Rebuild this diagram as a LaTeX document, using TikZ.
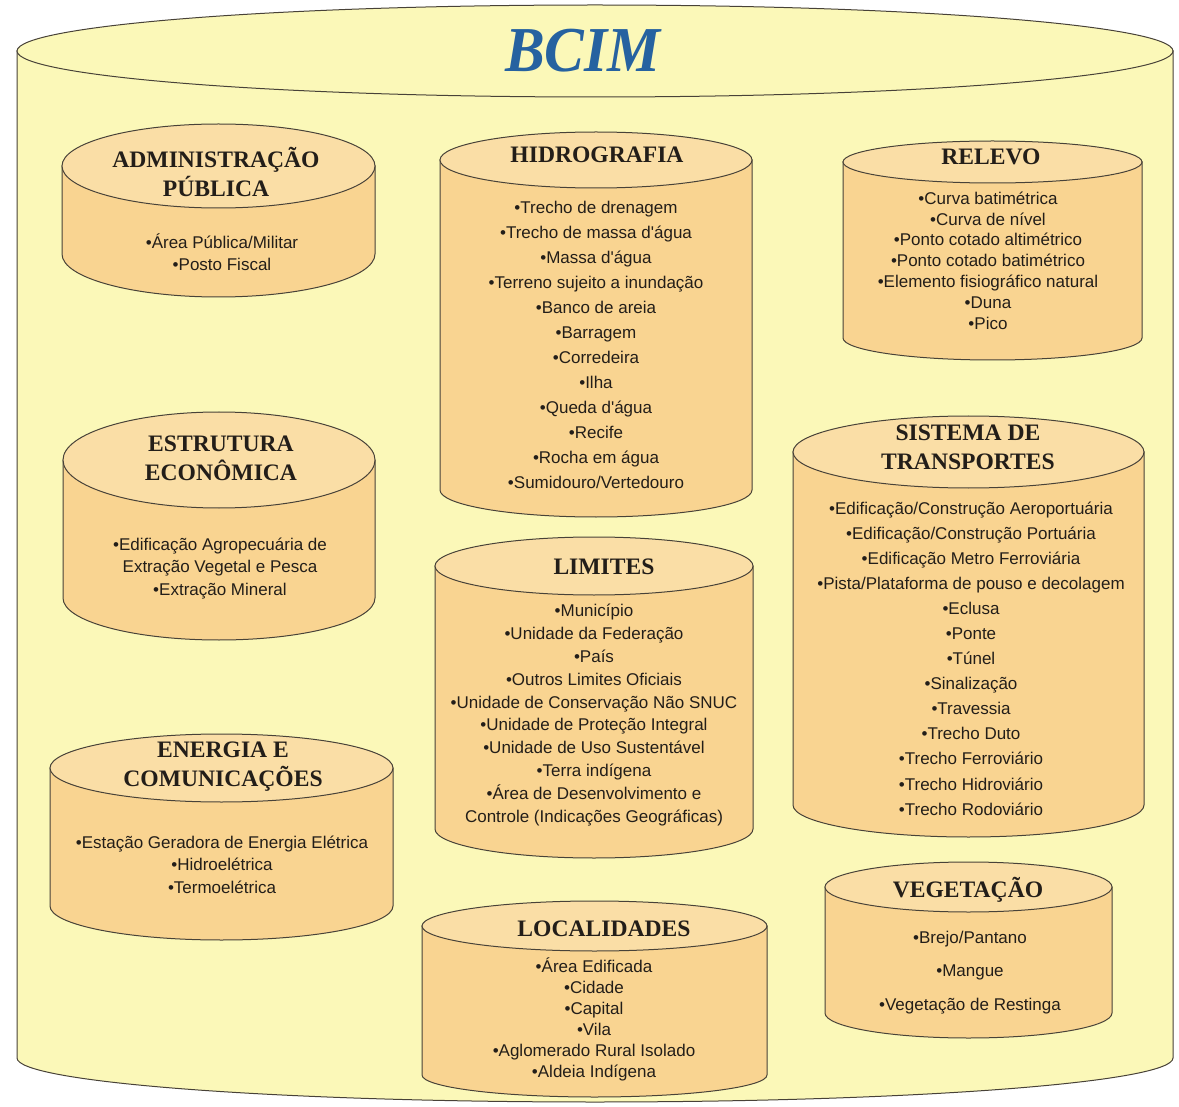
\documentclass[tikz,border=0pt]{standalone}
\usepackage{fontspec}
\setmainfont{Liberation Serif}
\setsansfont{Liberation Sans}
\definecolor{outerfill}{RGB}{251,248,184}
\definecolor{cylbody}{RGB}{249,212,145}
\definecolor{cyltopc}{RGB}{250,222,166}
\definecolor{edgec}{RGB}{72,66,56}
\definecolor{bcimblue}{RGB}{38,98,160}
\definecolor{txtc}{RGB}{35,30,25}
\newcommand\apos{\textquotesingle}
% #1 cx, #2 half width, #3 top centre y, #4 top ry, #5 bottom centre y, #6 bottom ry, #7 style prefix
\newcommand\mycyl[7]{%
  \filldraw[#7 side] (#1-#2,-#3) -- (#1-#2,-#5)
     arc[start angle=180,end angle=360,x radius=#2pt,y radius=#6pt]
     -- (#1+#2,-#3) -- cycle;
  \filldraw[#7 top] (#1,-#3) ellipse[x radius=#2pt,y radius=#4pt];
}
\tikzset{
  outer side/.style={fill=outerfill,draw=edgec,line width=1pt},
  outer top/.style={fill=outerfill,draw=edgec,line width=1pt},
  inner side/.style={fill=cylbody,draw=edgec,line width=1pt},
  inner top/.style={fill=cyltopc,draw=edgec,line width=1pt},
  ttl/.style={font=\fontsize{23.6}{29}\selectfont\bfseries,align=center,inner sep=0pt,text=txtc},
  itm/.style={font=\fontsize{17}{#1}\selectfont\sffamily,align=center,inner sep=0pt,text=txtc},
}
\begin{document}
\begin{tikzpicture}[x=1pt,y=1pt]
\useasboundingbox (0,0) rectangle (1179,-1107);
\fill[white] (0,0) rectangle (1179,-1107);
% outer cylinder
\mycyl{595}{578}{51}{46}{1058}{44}{outer}
\node[font=\fontsize{64}{64}\selectfont\bfseries\itshape,text=bcimblue,xscale=0.93] (bcim) at (583,-51) {BCIM};

% Administracao publica
\mycyl{218.5}{156.5}{166}{42}{254}{43}{inner}
\node[ttl] (admT) at (216,-172) {ADMINISTRAÇÃO\\PÚBLICA};
\node[itm=22] (admI) at (222,-252) {•Área Pública/Militar\\•Posto Fiscal};

% Hidrografia
\mycyl{596}{156}{160}{28}{490}{27}{inner}
\node[ttl] (hidT) at (597,-155) {HIDROGRAFIA};
\node[itm=25] (hidI) at (596,-344.5) {•Trecho de drenagem\\•Trecho de massa d\apos água\\•Massa d\apos água\\•Terreno sujeito a inundação\\•Banco de areia\\•Barragem\\•Corredeira\\•Ilha\\•Queda d\apos água\\•Recife\\•Rocha em água\\•Sumidouro/Vertedouro};

% Relevo
\mycyl{992.5}{149.5}{162}{21}{338}{22}{inner}
\node[ttl] (relT) at (991,-157) {RELEVO};
\node[itm=20.8] (relI) at (988,-260.5) {•Curva batimétrica\\•Curva de nível\\•Ponto cotado altimétrico\\•Ponto cotado batimétrico\\•Elemento fisiográfico natural\\•Duna\\•Pico};

% Estrutura economica
\mycyl{219}{156}{460}{48}{598}{42}{inner}
\node[ttl] (estT) at (221,-458.5) {ESTRUTURA\\ECONÔMICA};
\node[itm=22.5] (estI) at (220,-568.5) {•Edificação Agropecuária de\\Extração Vegetal e Pesca\\•Extração Mineral};

% Energia e comunicacoes
\mycyl{221.5}{171.5}{768}{34}{906}{34}{inner}
\node[ttl] (eneT) at (223,-766.5) {ENERGIA E\\COMUNICAÇÕES};
\node[itm=22.5] (eneI) at (222,-864.5) {•Estação Geradora de Energia Elétrica\\•Hidroelétrica\\•Termoelétrica};

% Limites
\mycyl{594}{159}{566}{29}{829}{29}{inner}
\node[ttl] (limT) at (604,-567) {LIMITES};
\node[itm=22.9] (limI) at (594,-715) {•Município\\•Unidade da Federação\\•País\\•Outros Limites Oficiais\\•Unidade de Conservação Não SNUC\\•Unidade de Proteção Integral\\•Unidade de Uso Sustentável\\•Terra indígena\\•Área de Desenvolvimento e\\Controle (Indicações Geográficas)};

% Localidades
\mycyl{594.5}{172.5}{926}{25}{1075}{22}{inner}
\node[ttl] (locT) at (604,-929) {LOCALIDADES};
\node[itm=21] (locI) at (594,-1019.5) {•Área Edificada\\•Cidade\\•Capital\\•Vila\\•Aglomerado Rural Isolado\\•Aldeia Indígena};

% Sistema de transportes
\mycyl{968.5}{175.5}{452}{36}{805}{32}{inner}
\node[ttl] (traT) at (968,-447) {SISTEMA DE\\TRANSPORTES};
\node[itm=25.08] (traI) at (971,-658.5) {•Edificação/Construção Aeroportuária\\•Edificação/Construção Portuária\\•Edificação Metro Ferroviária\\•Pista/Plataforma de pouso e decolagem\\•Eclusa\\•Ponte\\•Túnel\\•Sinalização\\•Travessia\\•Trecho Duto\\•Trecho Ferroviário\\•Trecho Hidroviário\\•Trecho Rodoviário};

% Vegetacao
\mycyl{968.5}{143.5}{887}{25}{1013}{25}{inner}
\node[ttl] (vegT) at (968,-890) {VEGETAÇÃO};
\node[itm=33.5] (vegI) at (970,-972.5) {•Brejo/Pantano\\•Mangue\\•Vegetação de Restinga};
\end{tikzpicture}
\end{document}
